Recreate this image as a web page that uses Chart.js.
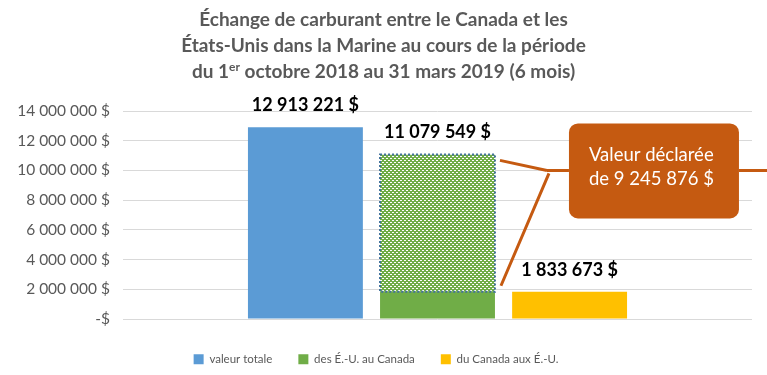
<!DOCTYPE html>
<html lang="fr">
<head>
<meta charset="utf-8">
<script src="https://cdn.jsdelivr.net/npm/chart.js@4"></script>
<style>
  html, body { margin: 0; padding: 0; background: #ffffff; }
  #wrap { width: 767px; height: 375px; position: relative; }
</style>
</head>
<body>
<div id="wrap"><canvas id="fuelChart"></canvas></div>
<script>
// Données
const categories = [''];
const seriesNames = ['valeur totale', 'des É.-U. au Canada', 'Valeur déclarée', 'du Canada aux É.-U.'];
const totalValues = [12913221];
const usToCanadaValues = [1833673];
const declaredValues = [9245876];
const canadaToUsValues = [1833673];
const yTicks = [0, 2000000, 4000000, 6000000, 8000000, 10000000, 12000000, 14000000];
const titleLines = ['Échange de carburant entre le Canada et les', 'États-Unis dans la Marine au cours de la période'];
const calloutLines = ['Valeur déclarée', 'de 9 245 876 $'];

Chart.defaults.font.family = 'Lato, "Open Sans", sans-serif';

function formatDollars(v) {
    if (v === 0) return '-$';
    return String(Math.round(v)).replace(/\B(?=(\d{3})+(?!\d))/g, ' ') + ' $';
}

// Motif de points blancs (posé sur la barre verte de la valeur déclarée)
function makeDots(ctx) {
    const c = document.createElement('canvas');
    c.width = 4; c.height = 4;
    const x = c.getContext('2d');
    x.fillStyle = '#ffffff';
    x.fillRect(0, 0, 2, 1);
    x.fillRect(2, 2, 2, 1);
    return ctx.createPattern(c, 'repeat');
}

// Titre avec exposant
const titlePlugin = {
    id: 'titleDraw',
    afterDraw(chart) {
        const ctx = chart.ctx;
        const cx = chart.width / 2;
        ctx.save();
        ctx.fillStyle = '#595959';
        ctx.textBaseline = 'alphabetic';
        ctx.textAlign = 'center';
        ctx.font = 'bold 19px Lato';
        titleLines.forEach((t, i) => ctx.fillText(t, cx, 26 + i * 26));
        // troisième ligne : du 1er octobre ...
        const a = 'du 1', sup = 'er', b = ' octobre 2018 au 31 mars 2019 (6 mois)';
        ctx.textAlign = 'left';
        ctx.font = 'bold 19px Lato';
        const wa = ctx.measureText(a).width, wb = ctx.measureText(b).width;
        ctx.font = 'bold 12px Lato';
        const ws = ctx.measureText(sup).width;
        const x0 = cx - (wa + ws + wb) / 2;
        const y3 = 78;
        ctx.font = 'bold 19px Lato';
        ctx.fillText(a, x0, y3);
        ctx.font = 'bold 12px Lato';
        ctx.fillText(sup, x0 + wa, y3 - 7);
        ctx.font = 'bold 19px Lato';
        ctx.fillText(b, x0 + wa + ws, y3);
        ctx.restore();
    }
};

// Motif, bordure pointillée, étiquettes de valeurs et bulle
const overlayPlugin = {
    id: 'overlay',
    afterDatasetsDraw(chart) {
        const ctx = chart.ctx;
        const yScale = chart.scales.y;

        const dEl = chart.getDatasetMeta(2).data[0];
        const left = dEl.x - dEl.width / 2, right = dEl.x + dEl.width / 2;
        ctx.save();
        ctx.fillStyle = makeDots(ctx);
        ctx.fillRect(left, dEl.y, dEl.width, dEl.base - dEl.y);
        ctx.strokeStyle = '#41719C';
        ctx.lineWidth = 2;
        ctx.setLineDash([2, 2]);
        ctx.strokeRect(left, dEl.y, dEl.width, dEl.base - dEl.y);
        ctx.restore();

        // étiquettes au-dessus de chaque pile
        const stacks = {};
        chart.data.datasets.forEach((ds, i) => {
            const el = chart.getDatasetMeta(i).data[0];
            const s = stacks[ds.stack] || { sum: 0, el: el };
            s.sum += ds.data[0];
            s.el = el;
            stacks[ds.stack] = s;
        });
        ctx.save();
        ctx.fillStyle = '#000000';
        ctx.font = 'bold 18px Lato';
        ctx.textAlign = 'center';
        ctx.textBaseline = 'alphabetic';
        Object.values(stacks).forEach(s => {
            ctx.fillText(formatDollars(s.sum), s.el.x, s.el.y - 16);
        });
        ctx.restore();

        // bulle « Valeur déclarée »
        const cy = yScale.getPixelForValue(10000000);
        const hub = right + 52;
        const bx = right + 74, bw = 170, by = cy - 47, bh = 95;
        ctx.save();
        ctx.strokeStyle = '#C55A11';
        ctx.lineWidth = 3;
        ctx.beginPath();
        ctx.moveTo(hub, cy);
        ctx.lineTo(right + 5, dEl.y + 6);
        ctx.moveTo(hub + 2, cy + 3);
        ctx.lineTo(right + 6, dEl.base - 6);
        ctx.moveTo(hub, cy);
        ctx.lineTo(bx, cy);
        ctx.moveTo(bx + bw, cy);
        ctx.lineTo(chart.width, cy);
        ctx.stroke();
        ctx.fillStyle = '#C55A11';
        ctx.beginPath();
        ctx.roundRect(bx, by, bw, bh, 9);
        ctx.fill();
        ctx.fillStyle = '#ffffff';
        ctx.font = '18.5px Lato';
        ctx.textAlign = 'left';
        ctx.textBaseline = 'middle';
        calloutLines.forEach((t, i) => ctx.fillText(t, bx + 20, cy - 15 + i * 24));
        ctx.restore();
    }
};

const ctx = document.getElementById('fuelChart').getContext('2d');
new Chart(ctx, {
    type: 'bar',
    data: {
        labels: categories,
        datasets: [
            { label: seriesNames[0], data: totalValues, stack: 'a', backgroundColor: '#5B9BD5' },
            { label: seriesNames[1], data: usToCanadaValues, stack: 'b', backgroundColor: '#70AD47' },
            { label: seriesNames[2], data: declaredValues, stack: 'b', backgroundColor: '#70AD47' },
            { label: seriesNames[3], data: canadaToUsValues, stack: 'c', backgroundColor: '#FFC000' }
        ]
    },
    options: {
        responsive: true,
        maintainAspectRatio: false,
        animation: false,
        categoryPercentage: 0.63,
        barPercentage: 0.87,
        layout: { padding: { top: 111, right: 15, bottom: 0, left: 0 } },
        plugins: {
            legend: {
                position: 'bottom',
                labels: {
                    color: '#595959',
                    font: { size: 11.5 },
                    boxWidth: 10,
                    boxHeight: 10,
                    padding: 26,
                    filter: item => item.text !== seriesNames[2]
                }
            },
            tooltip: { enabled: false }
        },
        scales: {
            x: {
                stacked: true,
                grid: { display: false },
                border: { display: false },
                ticks: { display: false },
                afterFit: scale => { scale.height = 8.5; }
            },
            y: {
                stacked: true,
                min: 0,
                max: 14000000,
                afterBuildTicks: scale => { scale.ticks = yTicks.map(v => ({ value: v })); },
                afterFit: scale => { scale.width = 123; },
                grid: { color: '#D9D9D9', drawTicks: false },
                border: { display: false },
                ticks: {
                    color: '#595959',
                    font: { size: 15.5 },
                    padding: 13,
                    callback: v => formatDollars(v)
                }
            }
        }
    },
    plugins: [titlePlugin, overlayPlugin]
});
</script>
</body>
</html>
